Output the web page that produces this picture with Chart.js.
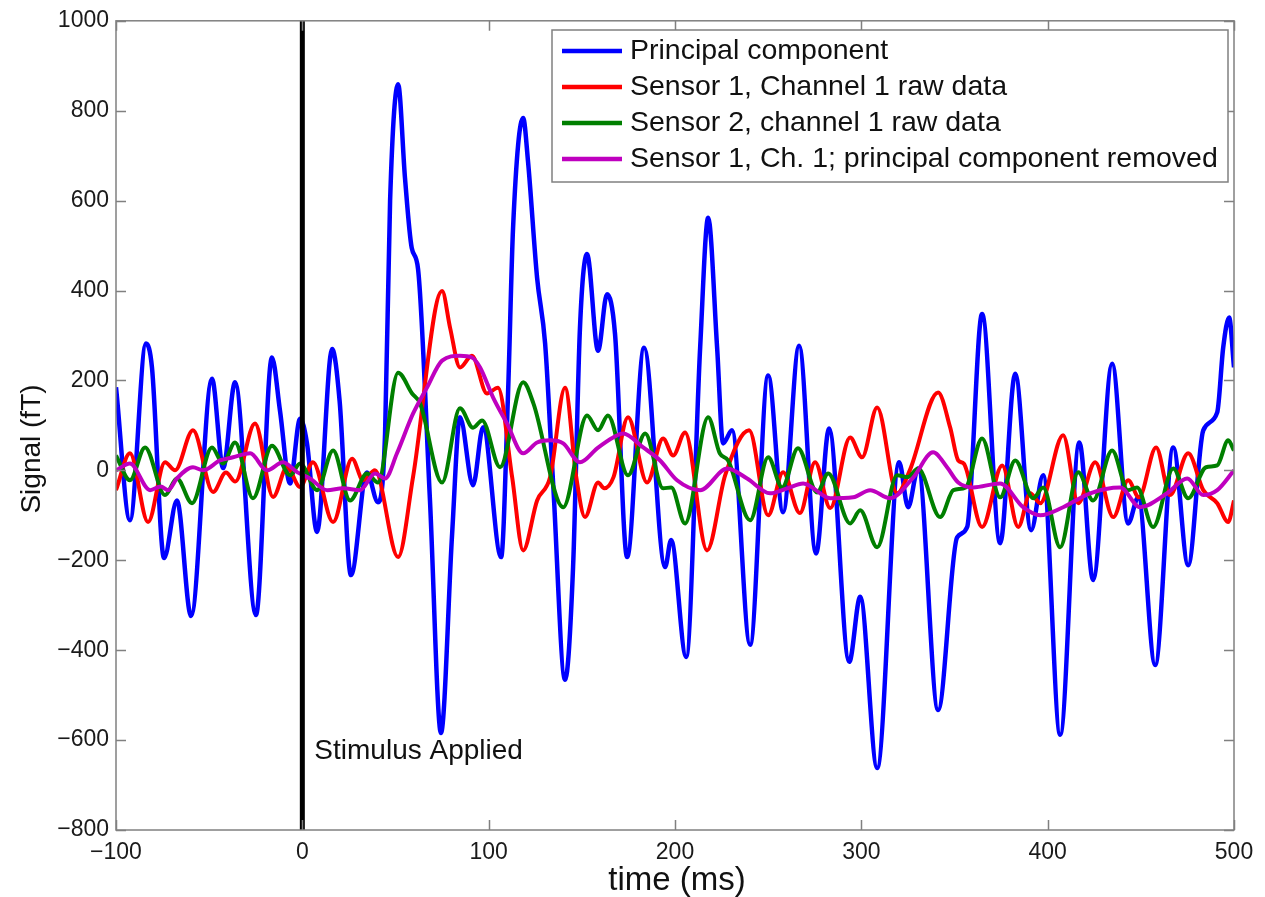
<!DOCTYPE html>
<html><head><meta charset="utf-8">
<script src="https://cdn.jsdelivr.net/npm/chart.js@4.4.1/dist/chart.umd.min.js"></script>
<style>html,body{margin:0;padding:0;background:#fff;overflow:hidden}canvas{display:block}</style>
</head><body>
<canvas id="c" width="1265" height="897"></canvas>
<script>
// ---- tick labels / categories ----
const xTickValues = [-100, 0, 100, 200, 300, 400, 500];
const yTickValues = [-800, -600, -400, -200, 0, 200, 400, 600, 800, 1000];
const seriesLabels = [
  'Principal component',
  'Sensor 1, Channel 1 raw data',
  'Sensor 2, channel 1 raw data',
  'Sensor 1, Ch. 1; principal component removed'
];
const xTitle = 'time (ms)';
const yTitle = 'Signal (fT)';
const stimulusTime = 0;
const stimulusLabel = 'Stimulus Applied';

// ---- Principal component (blue) ----
const pcT = [-100,-92.5,-83.9,-80.7,-74.2,-67.3,-59.7,-48.5,-42.5,-36.1,-24.9,-16.3,-12,-6.6,-1.2,2.5,7.9,16,20,26.1,34.7,40.6,44.4,47.1,51.4,55.1,58.7,62.1,68.5,74.4,80.4,84.6,91.6,97,106.7,110.4,113.1,118.5,121.1,126,130.3,134.6,141,145.3,149,152.8,158.7,163.5,167.8,174.3,183.4,194.7,197.9,206,213.5,217.8,222.6,225.8,230.6,240.3,250,258,266.6,275.7,282.7,293.5,299.4,308.5,320.3,325.1,330.5,341.2,351.4,356.8,364.8,374.5,382.6,391.1,397.6,406.7,417,424.4,434.6,443.2,448.6,457.7,467.4,475.4,483.5,491,494.2,497.4,500];
const pcV = [185,-111,282,229,-195,-67,-324,204,5,196,-322,251,133,-29,115,60,-137,270,155,-233,-5,-71,82,600,859,650,495,448,-67,-584,-140,118,-33,96,-193,171,540,784,688,428,282,-29,-466,-215,317,481,266,392,304,-193,273,-215,-155,-415,273,562,273,60,89,-388,211,-93,277,-185,93,-426,-281,-662,18,-82,4,-533,-149,-126,348,-162,215,-133,-11,-588,62,-244,237,-118,-60,-433,51,-211,89,129,273,340,229];

// ---- Sensor 1, Channel 1 raw (red) ----
const s1T = [-100,-92.5,-82.8,-73.7,-68.3,-58.7,-47.9,-41,-36,-25.4,-15.7,-8.2,-1.2,5.7,16.5,26.7,32.6,39,51.4,59.4,75,79.3,84.6,91,99.1,105,112.6,118.5,126,133,141,147,151.7,158.7,162,167,174.8,185,193.6,199,205.4,217.2,226.9,239.8,250,258,267,275.2,283.3,294,300.4,308.5,319.2,326,341.2,347.7,352,355,364.8,375.6,384.2,390.6,396,408.3,416.4,425.5,435.2,443.2,449,458.2,465.7,475.4,483.5,491,496.9,500];
const s1V = [-44,38,-115,18,0,89,-48,-5,-25,104,-59,7,-37,18,-115,26,-22,0,-193,-15,399,317,229,255,171,184,-15,-178,-67,-15,184,-15,-104,-27,-40,-15,118,-27,71,33,84,-178,-11,89,-100,-4,-95,18,-84,73,29,140,-51,0,173,95,22,15,-126,11,-126,-51,-73,78,-73,18,-104,-22,-60,51,-55,38,-44,-73,-115,-67];

// ---- Sensor 2, channel 1 raw (green) ----
const s2T = [-100,-92.5,-84.4,-73.7,-67.3,-59.2,-48.5,-42.6,-36.1,-26.5,-16.3,-6.6,-1.2,7.9,16.5,25.6,34.7,40.6,51.4,58.9,63.2,75,84.6,91.6,96.5,106.1,118.5,124,140,152.8,158.7,164,174.8,184,193.6,198,205.4,217.8,224,228.5,240.3,250,257.5,266,276.3,282.2,294,299.4,308.5,319.2,325,330.5,342.3,349.4,356,364.8,374.5,382.6,392.2,397.6,406.7,416.4,424.4,434.6,443,448,456.6,467.4,475.4,485,491,496.9,500];
const s2V = [33,-22,51,-55,-18,-73,51,15,62,-62,55,-11,15,-44,44,-67,-7,-27,217,171,149,-27,138,95,111,7,196,149,-82,122,89,122,-11,82,-40,-38,-118,118,38,22,-111,29,-38,49,-49,-7,-118,-89,-171,-11,-15,4,-104,-44,-38,71,-60,22,-62,-38,-171,-4,-67,44,-44,-38,-126,4,-62,7,11,67,44];

// ---- Sensor 1, Ch. 1; principal component removed (magenta) ----
const prT = [-100,-92.5,-81.7,-76,-72,-67.3,-58.7,-53.3,-44.2,-37.2,-28,-19,-10.4,-2.8,4.1,13.3,21.8,31,39,44.4,50.8,59.4,66.9,75,84.6,91,95.4,102.4,109.9,118.5,126,133,140,149,158.2,166.8,172.1,182.9,192,201.1,213.5,228,238.7,251,260.2,268.8,283.3,295.6,304.7,315.5,327.8,338.5,346,352,360,374.5,386.8,396,408.3,422.8,438.9,449.6,464.1,474.9,483.5,491,500];
const prV = [0,15,-44,-36,-44,-18,7,0,22,29,38,0,18,-4,-18,-44,-40,-44,-7,-18,38,126,184,244,255,251,229,162,104,38,62,67,60,18,49,73,82,51,22,-22,-44,4,-18,-51,-40,-29,-62,-60,-44,-62,-16,40,7,-27,-38,-29,-82,-100,-82,-51,-38,-82,-51,-18,-55,-44,0];

const seriesColors = ['#0000ff', '#ff0000', '#007f00', '#bf00bf'];
const FONT = '"Liberation Sans", Arial, Helvetica, sans-serif';
Chart.defaults.font.family = FONT;

const pts = (T, V) => T.map((t, i) => ({x: t, y: V[i]}));
const fmt = v => (v < 0 ? '\u2212' + Math.abs(v) : String(v));

const frameTicks = {
  id: 'frameTicks',
  afterDatasetsDraw(chart) {
    const {ctx, chartArea: a, scales: {x, y}} = chart;
    ctx.save();
    ctx.strokeStyle = '#808080';
    ctx.lineWidth = 1.5;
    ctx.strokeRect(a.left, a.top, a.right - a.left, a.bottom - a.top);
    const L = 10;
    ctx.beginPath();
    xTickValues.forEach(v => {
      const px = Math.round(x.getPixelForValue(v)) + 0.5;
      ctx.moveTo(px, a.bottom); ctx.lineTo(px, a.bottom - L);
      ctx.moveTo(px, a.top); ctx.lineTo(px, a.top + L);
    });
    yTickValues.forEach(v => {
      const py = Math.round(y.getPixelForValue(v)) + 0.5;
      ctx.moveTo(a.left, py); ctx.lineTo(a.left + L, py);
      ctx.moveTo(a.right, py); ctx.lineTo(a.right - L, py);
    });
    ctx.stroke();
    // stimulus annotation
    ctx.fillStyle = '#111';
    ctx.font = '28px ' + FONT;
    ctx.textBaseline = 'middle';
    ctx.textAlign = 'left';
    ctx.fillText(stimulusLabel, x.getPixelForValue(stimulusTime) + 12, y.getPixelForValue(-625));
    // axis titles
    ctx.font = '33px ' + FONT;
    ctx.textAlign = 'center';
    ctx.fillText(xTitle, (a.left + a.right) / 2 + 2, 881);
    ctx.save();
    ctx.translate(32, 449);
    ctx.rotate(-Math.PI / 2);
    ctx.font = '28px ' + FONT;
    ctx.fillText(yTitle, 0, 0);
    ctx.restore();
    ctx.restore();
  },
  afterDraw(chart) {
    const {ctx} = chart;
    const bx = 552, by = 30, bw = 676, bh = 152;
    ctx.save();
    ctx.fillStyle = '#fff';
    ctx.fillRect(bx, by, bw, bh);
    ctx.strokeStyle = '#808080';
    ctx.lineWidth = 1.5;
    ctx.strokeRect(bx, by, bw, bh);
    ctx.font = '28.5px ' + FONT;
    ctx.textBaseline = 'middle';
    for (let i = 0; i < 4; i++) {
      const ds = chart.data.datasets[i];
      const cy = by + 21 + i * 36;
      ctx.strokeStyle = ds.borderColor;
      ctx.lineWidth = 4.5;
      ctx.beginPath();
      ctx.moveTo(bx + 10, cy); ctx.lineTo(bx + 70, cy);
      ctx.stroke();
      ctx.fillStyle = '#111';
      ctx.fillText(ds.label, bx + 78, cy);
    }
    ctx.restore();
  }
};

const mk = (label, data, color, width, order) => ({
  label, data, borderColor: color, backgroundColor: color, borderWidth: width,
  pointRadius: 0, pointHoverRadius: 0, fill: false,
  cubicInterpolationMode: 'monotone', order
});

new Chart(document.getElementById('c'), {
  type: 'line',
  data: {
    datasets: [
      mk(seriesLabels[0], pts(pcT, pcV), seriesColors[0], 4.5, 4),
      mk(seriesLabels[1], pts(s1T, s1V), seriesColors[1], 4, 3),
      mk(seriesLabels[2], pts(s2T, s2V), seriesColors[2], 4, 2),
      mk(seriesLabels[3], pts(prT, prV), seriesColors[3], 4, 1),
      {label: 'stimulus', data: [{x: stimulusTime, y: yTickValues[0]}, {x: stimulusTime, y: yTickValues[yTickValues.length - 1]}],
       borderColor: '#000', borderWidth: 5, pointRadius: 0, order: 0, tension: 0}
    ]
  },
  options: {
    responsive: false, animation: false, devicePixelRatio: 1,
    layout: {padding: {top: 20, right: 31, left: 0, bottom: 0}},
    plugins: {legend: {display: false}, tooltip: {enabled: false}},
    scales: {
      x: {
        type: 'linear', min: xTickValues[0], max: xTickValues[xTickValues.length - 1],
        afterBuildTicks: s => { s.ticks = xTickValues.map(v => ({value: v})); },
        afterFit: s => { s.height = 67; },
        grid: {display: false, drawTicks: false}, border: {display: false},
        ticks: {font: {size: 23}, color: '#1a1a1a', padding: 9, maxRotation: 0, callback: v => fmt(v)},
        title: {display: false}
      },
      y: {
        type: 'linear', min: yTickValues[0], max: yTickValues[yTickValues.length - 1],
        afterBuildTicks: s => { s.ticks = yTickValues.map(v => ({value: v})); },
        afterFit: s => { s.width = 116; },
        grid: {display: false, drawTicks: false}, border: {display: false},
        ticks: {font: {size: 23}, color: '#1a1a1a', padding: 7, callback: v => fmt(v)},
        title: {display: false}
      }
    }
  },
  plugins: [frameTicks]
});
</script>
</body></html>
